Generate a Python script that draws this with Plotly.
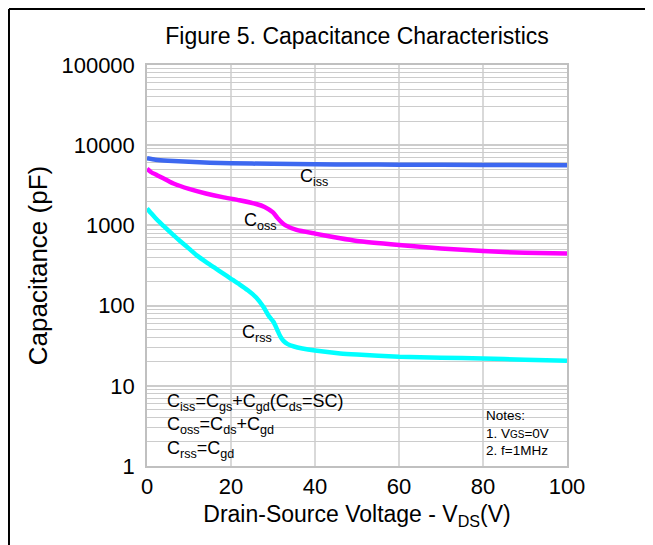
import plotly.graph_objects as go

# ---- data ----
ciss_v = [0, 2, 5, 10, 15, 20, 30, 40, 50, 60, 80, 100]
ciss_c = [6900, 6600, 6400, 6200, 6050, 5950, 5850, 5780, 5740, 5720, 5680, 5640]

coss_v = [0, 1, 2.5, 5, 6.3, 10, 14, 18, 22, 26, 28, 30, 31, 32, 33, 35.6, 40, 46, 50, 60, 70, 80, 90, 100]
coss_c = [5100, 4600, 4200, 3600, 3330, 2850, 2500, 2250, 2060, 1850, 1700, 1450, 1250, 1100, 1000,
          880, 790, 690, 640, 570, 515, 478, 455, 445]

crss_v = [0, 1, 2, 3, 4, 5, 6.3, 8, 10, 12, 14, 16, 18, 20, 22, 24, 26, 27.7, 29, 30.1, 31, 31.7,
          32.5, 33.5, 35, 37, 40, 46, 50, 60, 70, 80, 90, 100]
crss_c = [1626, 1413, 1239, 1096, 977, 871, 755, 631, 513, 417, 351, 299, 254, 216, 184, 155, 126,
          96.6, 74.1, 62.8, 50.1, 41.7, 36.3, 33.1, 30.9, 29.2, 27.5, 25.3, 24.5, 23.0, 22.4, 21.9,
          21.2, 20.5]

x_ticks = [0, 20, 40, 60, 80, 100]
y_ticks = [1, 10, 100, 1000, 10000, 100000]
y_ticktext = ["1", "10", "100", "1000", "10000", "100000"]

FONT = "Liberation Sans, Arial, sans-serif"
GRID = "#cccccc"

fig = go.Figure()

series = [
    ("C<sub>iss</sub>", ciss_v, ciss_c, "#3d68f0"),
    ("C<sub>oss</sub>", coss_v, coss_c, "#ff00ff"),
    ("C<sub>rss</sub>", crss_v, crss_c, "#00ffff"),
]
for name, xv, yv, col in series:
    fig.add_trace(go.Scatter(x=xv, y=yv, mode="lines", name=name,
                             line=dict(color=col, width=4.5, shape="spline", smoothing=0.5),
                             showlegend=False, hoverinfo="skip"))

shapes = []
# white boxes hiding horizontal grid (legend + notes)
shapes.append(dict(type="rect", xref="paper", yref="paper", x0=0.024, x1=0.543, y0=0.0, y1=0.195,
                   fillcolor="white", line=dict(width=0), layer="between"))
shapes.append(dict(type="rect", xref="x", yref="paper", x0=80, x1=100, y0=0.0, y1=0.157,
                   fillcolor="white", line=dict(width=0), layer="between"))
# vertical grid lines drawn over the boxes
for xv in x_ticks[1:-1]:
    shapes.append(dict(type="line", xref="x", yref="paper", x0=xv, x1=xv, y0=0, y1=1,
                       line=dict(color=GRID, width=1.5), layer="between"))
# outer black frame
shapes.append(dict(type="line", xref="paper", yref="paper", x0=-0.3286, x1=1.2, y0=1.1397, y1=1.1397,
                   line=dict(color="black", width=2)))
shapes.append(dict(type="line", xref="paper", yref="paper", x0=-0.3286, x1=-0.3286, y0=1.1397, y1=-0.2,
                   line=dict(color="black", width=2)))
shapes.append(dict(type="line", xref="paper", yref="paper", x0=1.2, x1=1.2, y0=1.1397, y1=-0.2,
                   line=dict(color="black", width=2)))

annotations = [
    dict(text="C<sub>iss</sub>", x=39.8, y=3.597, xref="x", yref="y", showarrow=False,
         font=dict(size=18, color="black", family=FONT)),
    dict(text="C<sub>oss</sub>", x=27.1, y=3.049, xref="x", yref="y", showarrow=False,
         font=dict(size=18, color="black", family=FONT)),
    dict(text="C<sub>rss</sub>", x=26.2, y=1.652, xref="x", yref="y", showarrow=False,
         font=dict(size=18, color="black", family=FONT)),
    dict(text="C<sub>iss</sub>=C<sub>gs</sub>+C<sub>gd</sub>(C<sub>ds</sub>=SC)<br>"
              "C<sub>oss</sub>=C<sub>ds</sub>+C<sub>gd</sub><br>"
              "C<sub>rss</sub>=C<sub>gd</sub>",
         xref="paper", yref="paper", x=0.044, y=0.193, xanchor="left", yanchor="top",
         align="left", showarrow=False, font=dict(size=18, color="black", family=FONT)),
    dict(text="Notes:<br>1. V<span style='font-size:10px'>GS</span>=0V<br>2. f=1MHz",
         xref="x", yref="paper", x=80.3, y=0.15, xanchor="left", yanchor="top",
         align="left", showarrow=False, font=dict(size=13.5, color="black", family=FONT)),
]

fig.update_layout(
    width=645, height=537,
    margin=dict(l=139, r=86, t=57, b=79),
    paper_bgcolor="white", plot_bgcolor="white",
    font=dict(family=FONT, color="black"),
    title=dict(text="Figure 5. Capacitance Characteristics", x=0.5, xref="paper", xanchor="center",
               y=0.948, yref="container", yanchor="middle",
               font=dict(size=23, color="black", family=FONT)),
    shapes=shapes, annotations=annotations,
    xaxis=dict(range=[0, 100], tickvals=x_ticks, ticks="", showgrid=False,
               showline=True, linecolor="#c0c0c0", linewidth=1.5, mirror=True,
               tickfont=dict(size=22), zeroline=False,
               title=dict(text="Drain-Source Voltage - V<sub>DS</sub>(V)", font=dict(size=23), standoff=8)),
    yaxis=dict(type="log", range=[0, 5], tickvals=y_ticks, ticktext=y_ticktext, ticks="",
               showgrid=True, gridcolor=GRID, gridwidth=1.5,
               minor=dict(dtick="D1", showgrid=True, gridcolor=GRID, gridwidth=1, ticks=""),
               showline=True, linecolor="#c0c0c0", linewidth=1.5, mirror=True,
               tickfont=dict(size=22), zeroline=False, ticklabelstandoff=6,
               title=dict(text="Capacitance (pF)", font=dict(size=26), standoff=6)),
)

fig.write_html("out.html")
